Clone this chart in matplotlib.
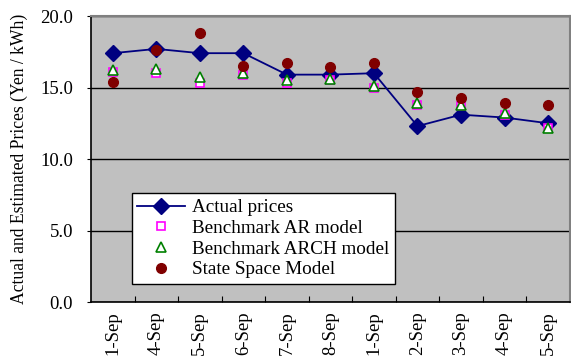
import numpy as np
import matplotlib
matplotlib.use("Agg")
import matplotlib.pyplot as plt

# daily prices, Yen / kWh
dates = ["1-Sep", "4-Sep", "5-Sep", "6-Sep", "7-Sep", "8-Sep",
         "1-Sep", "2-Sep", "3-Sep", "4-Sep", "5-Sep"]
actual = [17.4, 17.7, 17.4, 17.4, 15.9, 15.9, 16.0, 12.3, 13.1, 12.9, 12.5]
ar_model = [16.1, 16.0, 15.3, 15.9, 15.3, 15.5, 15.0, 13.8, 13.7, 13.1, 12.2]
arch_model = [16.2, 16.3, 15.7, 16.0, 15.5, 15.6, 15.1, 13.9, 13.8, 13.2, 12.2]
state_space = [15.4, 17.6, 18.8, 16.5, 16.7, 16.4, 16.7, 14.7, 14.3, 13.9, 13.8]

plt.rcParams["font.family"] = ["Liberation Serif", "DejaVu Serif"]

fig = plt.figure(figsize=(5.71, 3.62), dpi=100)
ax = fig.add_axes([0.1594, 0.1657, 0.8386, 0.7901])
ax.set_facecolor("#C0C0C0")

x = np.arange(len(dates))

ax.plot(x, actual, color="#000080", lw=1.3, marker="D", ms=8,
        mfc="#000080", mec="#000080", label="Actual prices", zorder=3)
ax.plot(x, ar_model, ls="none", marker="s", ms=6, mfc="white",
        mec="#FF00FF", mew=1.2, label="Benchmark AR model", zorder=4)
ax.plot(x, arch_model, ls="none", marker="^", ms=7, mfc="white",
        mec="#008000", mew=1.2, label="Benchmark ARCH model", zorder=5)
ax.plot(x, state_space, ls="none", marker="o", ms=7, mfc="#800000",
        mec="#800000", label="State Space Model", zorder=6)

ax.set_ylim(0, 20)
ax.set_yticks([0, 5, 10, 15, 20])
ax.set_yticklabels([f"{v:.1f}" for v in [0, 5, 10, 15, 20]], fontsize=13.5)
ax.yaxis.grid(True, color="black", lw=1)
ax.set_axisbelow(True)
ax.tick_params(axis="y", direction="out", length=3, pad=10)

ax.set_xlim(-0.5, len(dates) - 0.5)
ax.set_xticks(x[:-1] + 0.5)
ax.set_xticklabels([])
ax.tick_params(axis="x", which="major", direction="in", length=4)
ax.set_xticks(x, minor=True)
ax.set_xticklabels(dates, minor=True, rotation=90, fontsize=13.5)
ax.tick_params(axis="x", which="minor", length=0, pad=7)

for side in ["left", "bottom"]:
    ax.spines[side].set_color("black")
    ax.spines[side].set_linewidth(1.2)
for side in ["top", "right"]:
    ax.spines[side].set_color("#808080")
    ax.spines[side].set_linewidth(1.5)

ax.set_ylabel("Actual and Estimated Prices (Yen / kWh)", fontsize=12.7)
ax.yaxis.set_label_coords(-0.131, 0.5)

leg = ax.legend(loc="lower left", bbox_to_anchor=(0.2306, 0.2155),
                bbox_transform=fig.transFigure, fontsize=13.8,
                fancybox=False, framealpha=1, edgecolor="black",
                borderpad=0.3, labelspacing=0.17, handlelength=2.5,
                handletextpad=0.35, borderaxespad=0)
leg.get_frame().set_linewidth(1.0)

fig.savefig("out.png", dpi=100)
